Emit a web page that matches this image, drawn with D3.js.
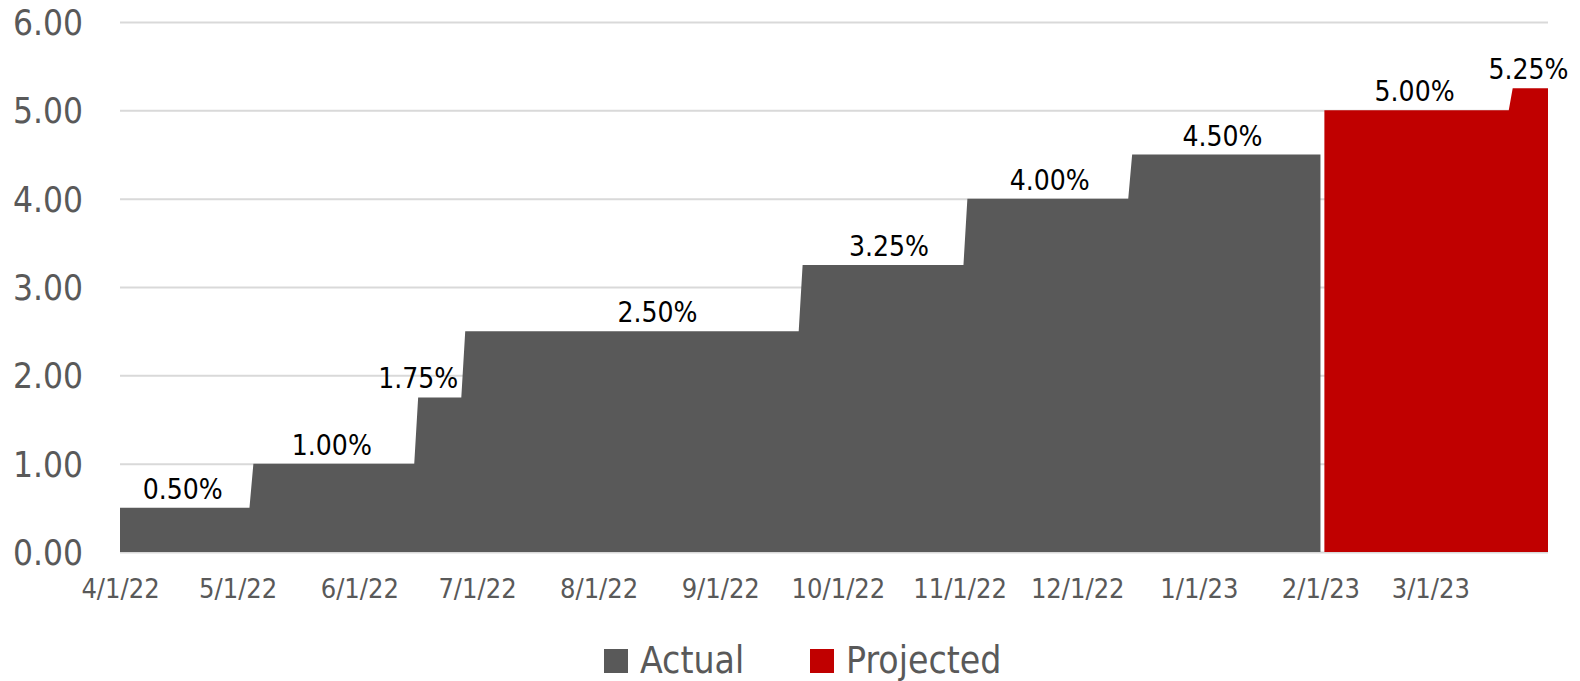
<!DOCTYPE html>
<html>
<head>
<meta charset="utf-8">
<script src="https://cdn.jsdelivr.net/npm/d3@7"></script>
<style>
  body { margin: 0; background: #fff; }
  svg text { font-family: "DejaVu Sans Condensed", "DejaVu Sans", sans-serif; }
</style>
</head>
<body>
<div id="chart"></div>
<script>
// rate path, one point per corner of the step area
var actualDates = ["4/1/22", "5/4/22", "5/5/22", "6/15/22", "6/16/22", "6/27/22", "6/28/22",
    "9/21/22", "9/22/22", "11/2/22", "11/3/22", "12/14/22", "12/15/22", "2/1/23"];
var actualRates = [0.5, 0.5, 1.0, 1.0, 1.75, 1.75, 2.5, 2.5, 3.25, 3.25, 4.0, 4.0, 4.5, 4.5];

var projectedDates = ["2/2/23", "3/21/23", "3/22/23", "3/31/23"];
var projectedRates = [5.0, 5.0, 5.25, 5.25];

// where each data label sits
var labelDates = ["4/17/22", "5/25/22", "6/16/22", "8/16/22", "10/14/22", "11/24/22", "1/7/23", "2/25/23", "3/26/23"];
var labelRates = [0.5, 1.0, 1.75, 2.5, 3.25, 4.0, 4.5, 5.0, 5.25];

var xTicks = ["4/1/22", "5/1/22", "6/1/22", "7/1/22", "8/1/22", "9/1/22", "10/1/22",
    "11/1/22", "12/1/22", "1/1/23", "2/1/23", "3/1/23"];
var yTicks = [0, 1, 2, 3, 4, 5, 6];

var seriesNames = ["Actual", "Projected"];
var seriesColors = ["#595959", "#c00000"];

var W = 1580, H = 681;
var parse = d3.utcParse("%m/%d/%y");

var x = d3.scaleUtc()
    .domain([parse("4/1/22"), parse("3/31/23")])
    .range([120, 1548]);
var y = d3.scaleLinear()
    .domain([0, 6])
    .range([552, 22]);

var svg = d3.select("#chart").append("svg")
    .attr("width", W)
    .attr("height", H);

// gridlines + y labels
var yAxis = svg.append("g")
    .attr("transform", "translate(120,0)")
    .call(d3.axisLeft(y).tickValues(yTicks).tickFormat(d3.format(".2f")).tickSize(-(1548 - 120)).tickPadding(37));
yAxis.select(".domain").remove();
yAxis.selectAll("line").attr("stroke", "#d9d9d9").attr("stroke-width", 2);
yAxis.selectAll("text")
    .attr("fill", "#595959")
    .style("font-size", "35px")
    .attr("dy", "0.36em");

function toPoints(dates, rates) {
    return dates.map(function (d, i) { return { date: parse(d), rate: rates[i] }; });
}

var area = d3.area()
    .x(function (d) { return x(d.date); })
    .y0(y(0))
    .y1(function (d) { return y(d.rate); });

var series = [toPoints(actualDates, actualRates), toPoints(projectedDates, projectedRates)];

svg.selectAll(".area")
    .data(series)
    .enter()
    .append("path")
    .attr("class", "area")
    .attr("d", area)
    .attr("fill", function (d, i) { return seriesColors[i]; });

// data labels
svg.selectAll(".lbl")
    .data(labelDates)
    .enter()
    .append("text")
    .attr("class", "lbl")
    .attr("x", function (d) { return x(parse(d)); })
    .attr("y", function (d, i) { return y(labelRates[i]) - 9; })
    .attr("text-anchor", "middle")
    .style("font-size", "28px")
    .attr("fill", "#000")
    .text(function (d, i) { return labelRates[i].toFixed(2) + "%"; });

// x axis labels
var xAxis = svg.append("g")
    .attr("transform", "translate(0," + y(0) + ")")
    .call(d3.axisBottom(x).tickValues(xTicks.map(parse)).tickFormat(d3.utcFormat("%-m/%-d/%y")).tickSize(0).tickPadding(27));
xAxis.select(".domain").remove();
xAxis.selectAll("text")
    .attr("fill", "#595959")
    .style("font-size", "27px");

// legend
var legendX = [604, 810];
var legend = svg.selectAll(".legend")
    .data(seriesNames)
    .enter()
    .append("g")
    .attr("class", "legend")
    .attr("transform", function (d, i) { return "translate(" + legendX[i] + ",649)"; });
legend.append("rect")
    .attr("width", 24)
    .attr("height", 24)
    .attr("fill", function (d, i) { return seriesColors[i]; });
legend.append("text")
    .attr("x", 36)
    .attr("y", 24)
    .attr("fill", "#595959")
    .style("font-size", "37px")
    .text(function (d) { return d; });
</script>
</body>
</html>
